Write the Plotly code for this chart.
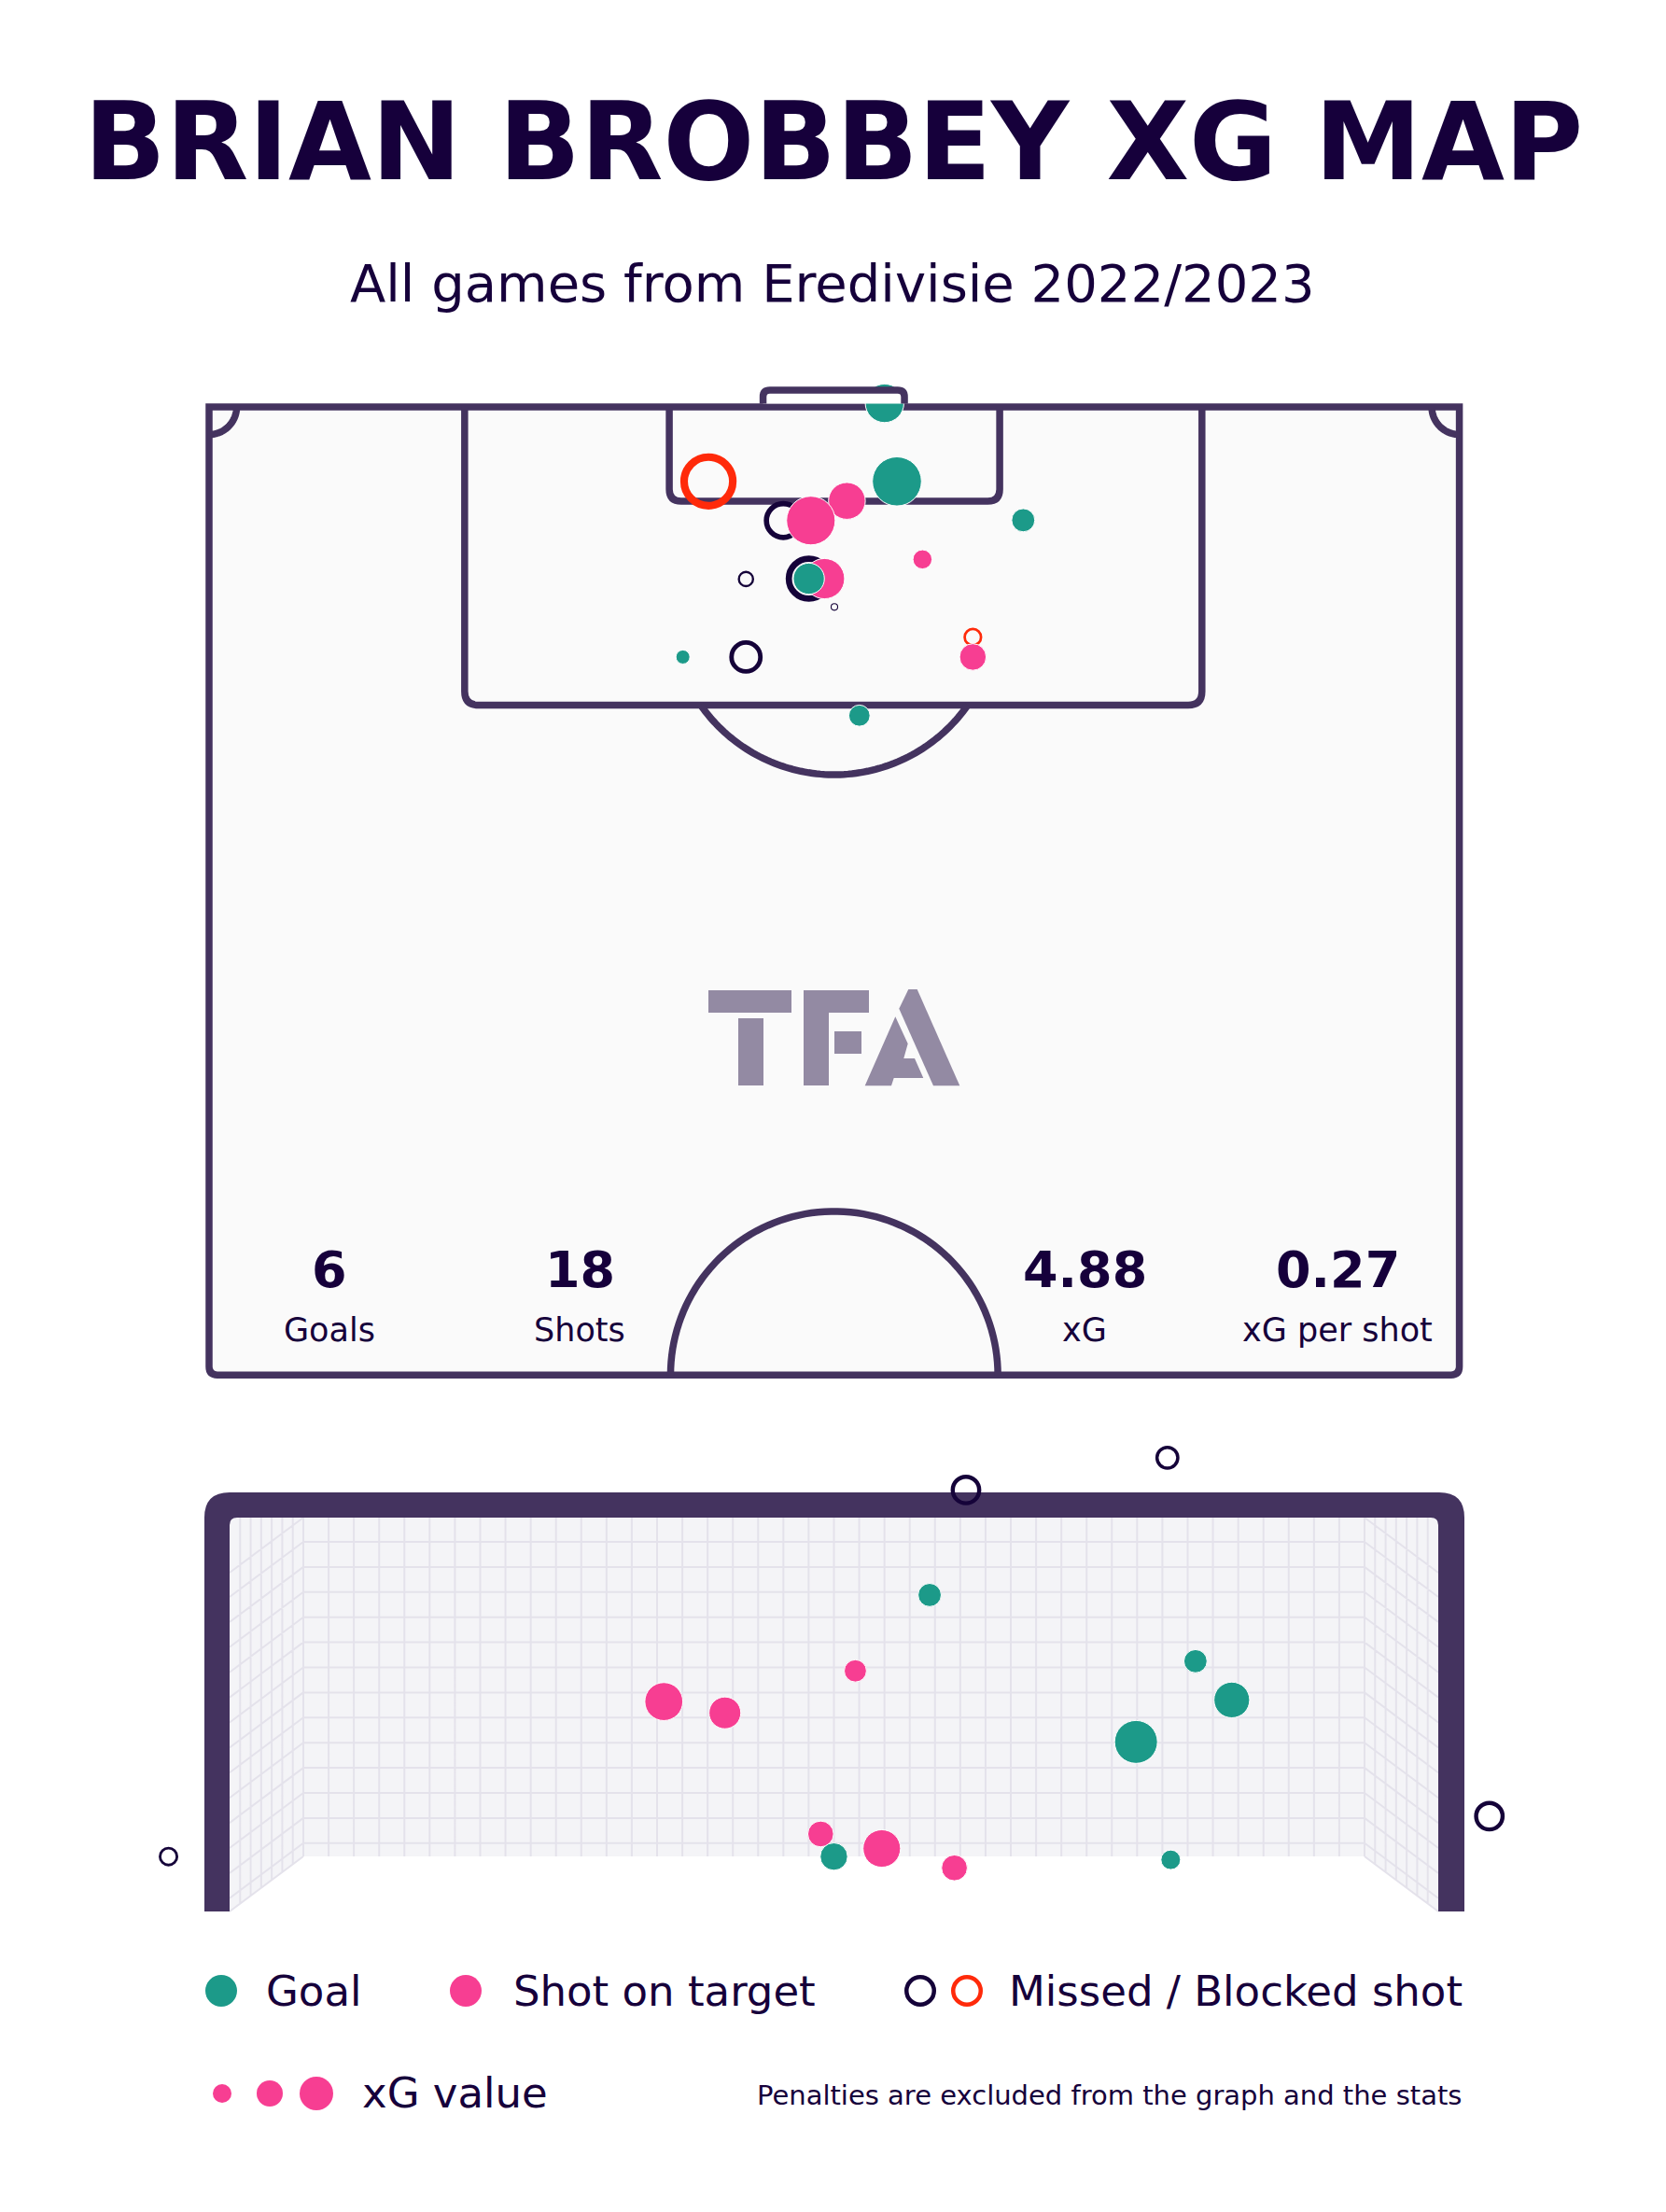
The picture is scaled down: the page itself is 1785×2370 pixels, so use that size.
import numpy as np
import plotly.graph_objects as go

W, H = 1785, 2370

# shots on the pitch: metres across the pitch (0-68) and out from the goal line
shot_x = [36.74, 27.16, 37.41, 34.69, 31.23, 32.73, 44.28, 38.80, 29.20,
          32.62, 33.47, 32.62, 34.01, 41.54, 41.54, 25.77, 29.20, 35.37]
shot_y = [-0.20, 4.05, 4.05, 5.11, 6.18, 6.18, 6.16, 8.29, 9.36,
          9.34, 9.34, 9.34, 10.88, 12.52, 13.60, 13.60, 13.60, 16.79]
shot_xg = [0.35, 0.71, 0.56, 0.32, 0.34, 0.55, 0.13, 0.09, 0.06,
           0.48, 0.38, 0.23, 0.013, 0.08, 0.17, 0.05, 0.25, 0.11]
shot_result = ['Goal', 'Blocked', 'Goal', 'Saved', 'Missed', 'Saved', 'Goal', 'Saved', 'Missed',
               'Missed', 'Saved', 'Goal', 'Missed', 'Blocked', 'Saved', 'Goal', 'Missed', 'Goal']

# goal mouth view: metres from the left post and height above the ground
mouth_y = [4.46, 5.68, 7.63, -0.37, 4.24, 5.85, 6.07, 5.49, 3.66, 5.70,
           2.63, 3.00, 3.79, 3.58, 3.95, 4.39]
mouth_z = [2.61, 2.81, 0.59, 0.34, 1.96, 1.55, 1.31, 1.05, 0.34, 0.32,
           1.30, 1.23, 1.49, 0.48, 0.39, 0.27]
mouth_xg = [0.21, 0.13, 0.21, 0.086, 0.13, 0.13, 0.30, 0.43, 0.18, 0.094,
            0.34, 0.24, 0.12, 0.16, 0.33, 0.16]
mouth_result = ['Missed', 'Missed', 'Missed', 'Missed', 'Goal', 'Goal', 'Goal', 'Goal', 'Goal', 'Goal',
                'Saved', 'Saved', 'Saved', 'Saved', 'Saved', 'Saved']

stat_values = ['6', '18', '4.88', '0.27']
stat_labels = ['Goals', 'Shots', 'xG', 'xG per shot']

COLORS = {'Goal': '#1c9a89', 'Saved': '#f73e92', 'Missed': '#150339', 'Blocked': '#ff2a0a'}
LINE = '#44335f'
INK = '#16003b'
FONT = 'DejaVu Sans'
K = 35.8  # marker radius in px = K * sqrt(xG)

# pitch axes: 19.7 px per metre, pitch starts at page px (224, 436)
S, X0, Y0 = 19.7, 224, 436
SPLIT = 1540  # page px where the goal view axes begin
# goal view axes
GX0, GSX, GZ0, GSZ = 246, 176.9, 2048, 173.0

L = 52.65  # half pitch length drawn


def shot_traces(xs, ys, xgs, results, xa, ya):
    traces = []
    for res in ['Missed', 'Blocked', 'Saved', 'Goal']:
        idx = [i for i, r in enumerate(results) if r == res]
        if not idx:
            continue
        r = K * np.sqrt(np.array([xgs[i] for i in idx]))
        if res in ('Missed', 'Blocked'):
            lw = 0.27 * r
            marker = dict(symbol='circle-open', color=COLORS[res], size=2 * r - lw,
                          line=dict(width=lw), opacity=1)
        else:
            marker = dict(symbol='circle', color=COLORS[res], size=2 * r - 1,
                          line=dict(width=1, color='white'), opacity=1)
        traces.append(go.Scatter(x=[xs[i] for i in idx], y=[ys[i] for i in idx], mode='markers',
                                 marker=marker, xaxis=xa, yaxis=ya, hoverinfo='skip',
                                 showlegend=False, cliponaxis=False))
    return traces


def arc(cx, cy, r, t0, t1, n=80):
    t = np.linspace(t0, t1, n)
    pts = [f'{cx + r * np.cos(a):.3f},{cy + r * np.sin(a):.3f}' for a in t]
    return 'M ' + ' L '.join(pts)


def pitch_line(path, **kw):
    d = dict(type='path', path=path, xref='x', yref='y', line=dict(color=LINE, width=7.5), layer='below')
    d.update(kw)
    return d


def box(x0, x1, depth, r):
    return (f'M {x0},0 L {x0},{depth - r} Q {x0},{depth} {x0 + r},{depth} '
            f'L {x1 - r},{depth} Q {x1},{depth} {x1},{depth - r} L {x1},0')


def pp(px, py):
    return f'{px / W:.5f},{1 - py / H:.5f}'


def gm(px, py):
    return f'{(px - GX0) / GSX:.4f},{(GZ0 - py) / GSZ:.4f}'


shapes = []
# pitch
shapes.append(pitch_line(f'M 0,0 L 0,{L - 0.45} Q 0,{L} 0.45,{L} L 67.55,{L} Q 68,{L} 68,{L - 0.45} L 68,0 Z',
                         fillcolor='#fafafa'))
shapes.append(pitch_line(arc(0, 0, 1.5, 0, np.pi / 2)))
shapes.append(pitch_line(arc(68, 0, 1.5, np.pi / 2, np.pi)))
shapes.append(pitch_line(box(25.03, 43.0, 5.13, 0.65)))
shapes.append(pitch_line(box(13.9, 54.0, 16.22, 0.75)))
t0 = np.arcsin((16.22 - 11.14) / 8.86)
shapes.append(pitch_line(arc(34, 11.14, 8.86, t0, np.pi - t0)))
shapes.append(pitch_line(arc(34, L, 8.9, np.pi, 2 * np.pi)))
# goal: hides the part of shots beyond the goal line
shapes.append(dict(type='rect', xref='x', yref='y', x0=30.13, x1=37.82, y0=-0.95, y1=-0.18,
                   fillcolor='white', line=dict(width=0), layer='above'))
shapes.append(pitch_line('M 30.13,-0.18 L 30.13,-0.55 Q 30.13,-0.91 30.5,-0.91 '
                         'L 37.45,-0.91 Q 37.82,-0.91 37.82,-0.55 L 37.82,-0.18', layer='above'))

# TFA logo
LOGO = '#938aa3'
logo_parts = [
    [(759, 1061), (848, 1061), (848, 1085), (759, 1085)],
    [(791, 1091), (818, 1091), (818, 1163), (791, 1163)],
    [(861, 1061), (931, 1061), (931, 1085), (888, 1085), (888, 1163), (861, 1163)],
    [(894, 1105), (923, 1105), (923, 1129), (894, 1129)],
    [(959.3, 1089.3), (972.7, 1118.3), (968.3, 1134), (980, 1134), (989.3, 1155),
     (957.7, 1155), (955, 1163.3), (926.7, 1163.3)],
    [(973.3, 1060), (982.7, 1060), (1028.3, 1163.3), (1000, 1163.3), (963.3, 1080.7)],
]
for part in logo_parts:
    path = 'M ' + ' L '.join(pp(*p) for p in part) + ' Z'
    shapes.append(dict(type='path', path=path, xref='paper', yref='paper', fillcolor=LOGO,
                       line=dict(width=0), layer='above'))

# goal mouth: net, then frame
back_l, back_r, front_l, front_r = 325, 1462, 246, 1541
top, back_bot, front_bot = 1626, 1989, 2048
drop = front_bot - back_bot
net = ' L '.join(gm(*p) for p in [(front_l, top), (front_r, top), (front_r, front_bot),
                                   (back_r, back_bot), (back_l, back_bot), (front_l, front_bot)])
shapes.append(dict(type='path', path='M ' + net + ' Z', xref='x2', yref='y2',
                   fillcolor='#f4f4f7', line=dict(width=0), layer='below'))
segs = []
for x in np.linspace(back_l, back_r, 43):
    segs.append(((x, top), (x, back_bot)))
h_lines = 1652 + 26.9 * np.arange(13)
for y in h_lines:
    segs.append(((back_l, y), (back_r, y)))
for i in range(1, 7):
    dx = i * (back_l - front_l) / 7
    yb = front_bot - dx * drop / (back_l - front_l)
    segs.append(((front_l + dx, top), (front_l + dx, yb)))
    segs.append(((front_r - dx, top), (front_r - dx, yb)))
for y in [top] + list(h_lines) + [back_bot]:
    segs.append(((back_l, y), (front_l, y + drop)))
    segs.append(((back_r, y), (front_r, y + drop)))
net_path = ' '.join(f'M {gm(*a)} L {gm(*b)}' for a, b in segs)
shapes.append(dict(type='path', path=net_path, xref='x2', yref='y2',
                   line=dict(color='#e4e2eb', width=2), layer='below'))
frame = ('M ' + gm(219, 2048) + ' L ' + gm(219, 1626) + ' Q ' + gm(219, 1599) + ' ' + gm(246, 1599)
         + ' L ' + gm(1542, 1599) + ' Q ' + gm(1569, 1599) + ' ' + gm(1569, 1626)
         + ' L ' + gm(1569, 2048) + ' L ' + gm(1541, 2048) + ' L ' + gm(1541, 1634)
         + ' Q ' + gm(1541, 1626) + ' ' + gm(1533, 1626) + ' L ' + gm(254, 1626)
         + ' Q ' + gm(246, 1626) + ' ' + gm(246, 1634) + ' L ' + gm(246, 2048) + ' Z')
shapes.append(dict(type='path', path=frame, xref='x2', yref='y2', fillcolor=LINE,
                   line=dict(width=0), layer='below'))


# legend swatches
def swatch(cx, cy, r, color, ring=False):
    lw = 4.5 if ring else 0
    rr = r - lw / 2
    return dict(type='circle', xref='paper', yref='paper',
                x0=(cx - rr) / W, x1=(cx + rr) / W, y0=1 - (cy + rr) / H, y1=1 - (cy - rr) / H,
                fillcolor='rgba(0,0,0,0)' if ring else color,
                line=dict(color=color, width=lw), layer='above')


shapes += [swatch(237, 2133, 17, COLORS['Goal']), swatch(499, 2133, 17, COLORS['Saved']),
           swatch(986, 2133, 17, COLORS['Missed'], ring=True),
           swatch(1036, 2133, 17, COLORS['Blocked'], ring=True),
           swatch(238, 2243, 10, COLORS['Saved']), swatch(289, 2243, 14, COLORS['Saved']),
           swatch(339, 2243, 18, COLORS['Saved'])]


def note(text, px, py, size, anchor='center', bold=False, color=INK):
    return dict(text=text, x=px / W, y=1 - py / H, xref='paper', yref='paper', showarrow=False,
                xanchor=anchor, yanchor='middle',
                font=dict(family=FONT, size=size, color=color, weight='bold' if bold else 'normal'))


annotations = [
    note('BRIAN BROBBEY XG MAP', 893, 152, 115, bold=True),
    note('All games from Eredivisie 2022/2023', 892, 304, 56),
]
for v, lab, px in zip(stat_values, stat_labels, [353, 621, 1162, 1433]):
    annotations.append(note(v, px, 1360, 54, bold=True))
    annotations.append(note(lab, px, 1425, 35))
annotations += [
    note('Goal', 283, 2133, 45, anchor='left'),
    note('Shot on target', 548, 2133, 45, anchor='left'),
    note('Missed / Blocked shot', 1079, 2133, 45, anchor='left'),
    note('xG value', 386, 2242, 45, anchor='left'),
    note('Penalties are excluded from the graph and the stats', 1568, 2245, 29, anchor='right'),
]

fig = go.Figure()
for tr in shot_traces(shot_x, shot_y, shot_xg, shot_result, 'x', 'y'):
    fig.add_trace(tr)
for tr in shot_traces(mouth_y, mouth_z, mouth_xg, mouth_result, 'x2', 'y2'):
    fig.add_trace(tr)

hidden = dict(visible=False, showgrid=False, zeroline=False, fixedrange=True)
fig.update_layout(
    width=W, height=H,
    margin=dict(l=0, r=0, t=0, b=0, pad=0),
    paper_bgcolor='white', plot_bgcolor='rgba(0,0,0,0)',
    xaxis=dict(domain=[0, 1], range=[-X0 / S, (W - X0) / S], anchor='y', **hidden),
    yaxis=dict(domain=[1 - SPLIT / H, 1], range=[(SPLIT - Y0) / S, -Y0 / S], anchor='x', **hidden),
    xaxis2=dict(domain=[0, 1], range=[-GX0 / GSX, (W - GX0) / GSX], anchor='y2', **hidden),
    yaxis2=dict(domain=[0, 1 - SPLIT / H], range=[(GZ0 - H) / GSZ, (GZ0 - SPLIT) / GSZ], anchor='x2', **hidden),
    shapes=shapes,
    annotations=annotations,
    showlegend=False,
)

fig.write_html("out.html", config={'displayModeBar': False},
               post_script="document.body.style.margin='0px';")
